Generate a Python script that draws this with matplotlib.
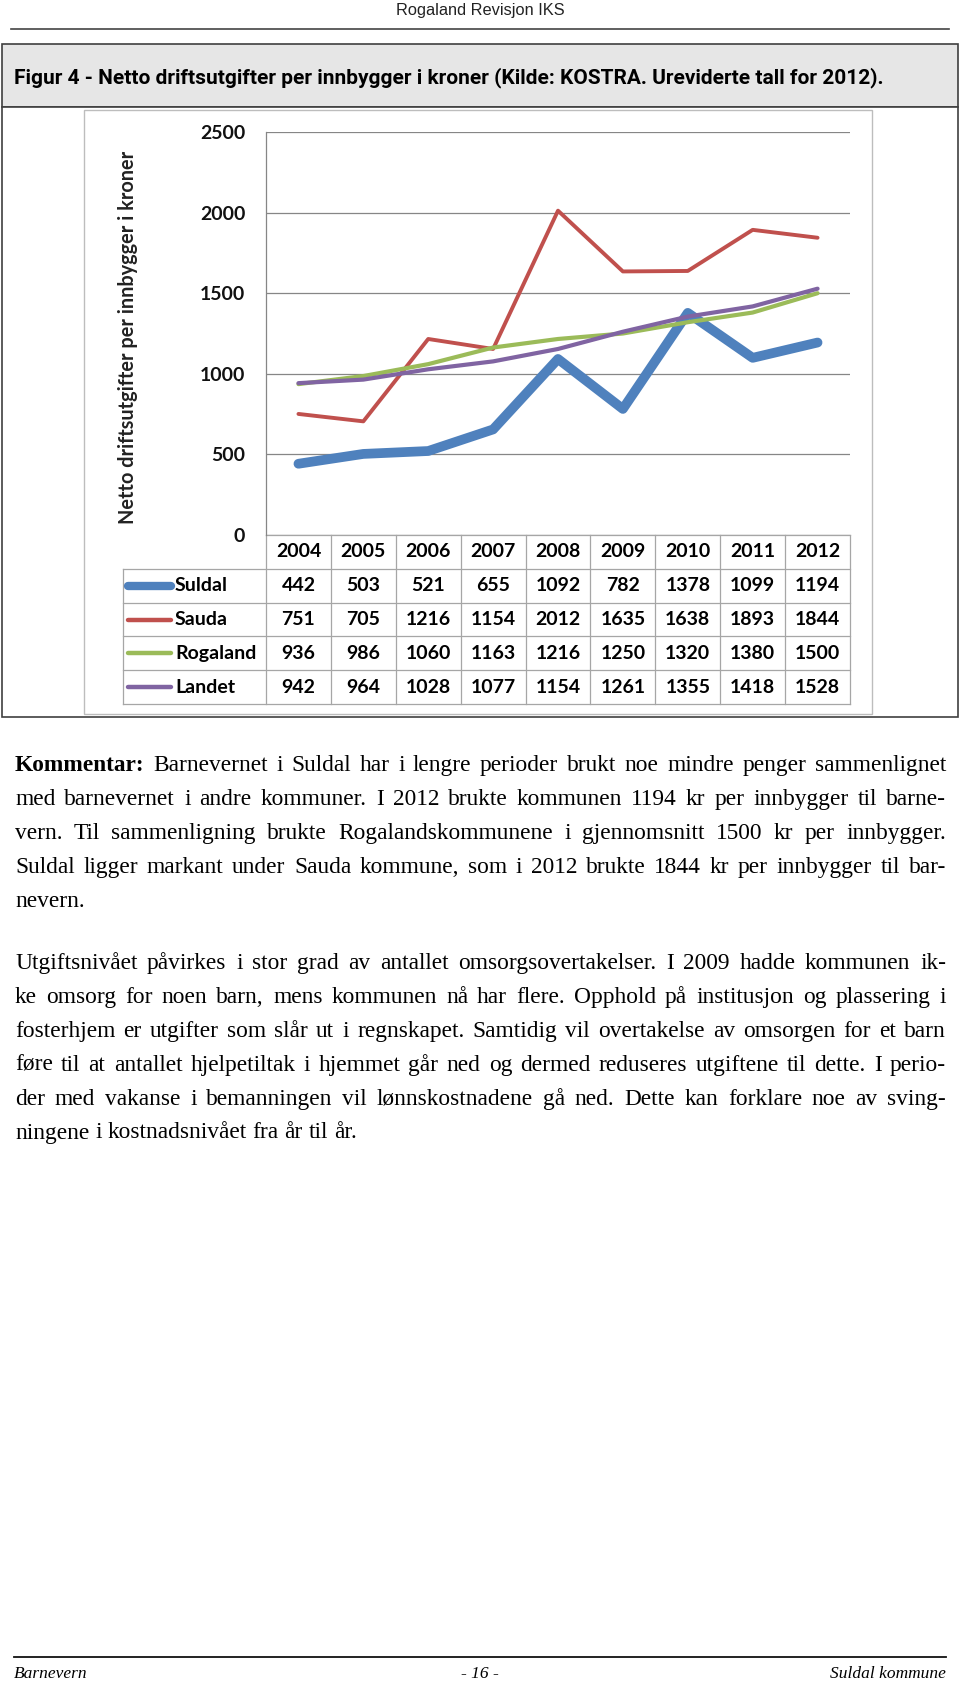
import matplotlib
matplotlib.use('Agg')
import matplotlib.pyplot as plt
import matplotlib.transforms as mtransforms
from matplotlib.patches import Rectangle

# data
years = ['2004', '2005', '2006', '2007', '2008', '2009', '2010', '2011', '2012']
suldal = [442, 503, 521, 655, 1092, 782, 1378, 1099, 1194]
sauda = [751, 705, 1216, 1154, 2012, 1635, 1638, 1893, 1844]
rogaland = [936, 986, 1060, 1163, 1216, 1250, 1320, 1380, 1500]
landet = [942, 964, 1028, 1077, 1154, 1261, 1355, 1418, 1528]
series_names = ['Suldal', 'Sauda', 'Rogaland', 'Landet']
series_colors = ['#4f81bd', '#c0504d', '#9bbb59', '#8064a2']
y_ticks = [0, 500, 1000, 1500, 2000, 2500]

header_text = 'Rogaland Revisjon IKS'
figure_title = ('Figur 4 - Netto driftsutgifter per innbygger i kroner '
                '(Kilde: KOSTRA. Ureviderte tall for 2012).')
y_label = 'Netto driftsutgifter per innbygger i kroner'

para1 = [
    'Kommentar: Barnevernet i Suldal har i lengre perioder brukt noe mindre penger sammenlignet',
    'med barnevernet i andre kommuner. I 2012 brukte kommunen 1194 kr per innbygger til barne-',
    'vern. Til sammenligning brukte Rogalandskommunene i gjennomsnitt 1500 kr per innbygger.',
    'Suldal ligger markant under Sauda kommune, som i 2012 brukte 1844 kr per innbygger til bar-',
    'nevern.',
]
para2 = [
    'Utgiftsnivået påvirkes i stor grad av antallet omsorgsovertakelser. I 2009 hadde kommunen ik-',
    'ke omsorg for noen barn, mens kommunen nå har flere. Opphold på institusjon og plassering i',
    'fosterhjem er utgifter som slår ut i regnskapet. Samtidig vil overtakelse av omsorgen for et barn',
    'føre til at antallet hjelpetiltak i hjemmet går ned og dermed reduseres utgiftene til dette. I perio-',
    'der med vakanse i bemanningen vil lønnskostnadene gå ned. Dette kan forklare noe av sving-',
    'ningene i kostnadsnivået fra år til år.',
]
footer_left = 'Barnevern'
footer_mid = '- 16 -'
footer_right = 'Suldal kommune'

W, H = 960, 1684
SANS = ['Lato', 'DejaVu Sans']
SERIF = ['Liberation Serif', 'DejaVu Serif']

fig = plt.figure(figsize=(W / 100, H / 100), dpi=100)
page = fig.add_axes([0, 0, 1, 1])
page.set_xlim(0, W)
page.set_ylim(H, 0)
page.axis('off')
renderer = fig.canvas.get_renderer()


def fit_width(t, target):
    bb = t.get_window_extent(renderer)
    t.set_fontsize(t.get_fontsize() * target / max(bb.width, bb.height))


# page header
t = page.text(480, 10, header_text, ha='center', va='center', fontsize=11,
              family=['Liberation Sans Narrow', 'Liberation Sans'], color='#222222')
fit_width(t, 168)
page.plot([11, 949], [29, 29], color='#444444', lw=1.2)

# figure caption box
page.add_patch(Rectangle((2, 44), 956, 63, facecolor='#e6e6e6', edgecolor='#3f3f3f', lw=1.2))
t = page.text(14, 78, figure_title, ha='left', va='center', fontsize=10, fontweight='bold',
              family=['Roboto', 'DejaVu Sans'])
fit_width(t, 866)

# chart boxes
page.add_patch(Rectangle((2, 107), 956, 610, facecolor='white', edgecolor='#3f3f3f', lw=1.2))
page.add_patch(Rectangle((84, 110), 788, 604, facecolor='white', edgecolor='#bdbdbd', lw=1.0))

# chart
ax = fig.add_axes([266 / W, 1 - 535 / H, (850 - 266) / W, (535 - 132) / H])
ax.set_xlim(-0.5, len(years) - 0.5)
ax.set_ylim(0, 2500)
ax.set_yticks(y_ticks)
ax.set_xticks([])
ax.yaxis.grid(True, color='#868686', lw=0.9)
ax.set_axisbelow(True)
for s in ['top', 'right', 'bottom']:
    ax.spines[s].set_visible(False)
ax.spines['left'].set_color('#868686')
ax.spines['left'].set_linewidth(0.9)
ax.tick_params(axis='y', length=0, pad=15)
for lab in ax.get_yticklabels():
    lab.set_fontsize(14)
    lab.set_fontweight('bold')
    lab.set_family(SANS)
    lab.set_color('#111111')
ax.patch.set_alpha(0)

all_series = [suldal, sauda, rogaland, landet]
line_widths = [7.0, 2.8, 3.0, 3.0]
x = list(range(len(years)))
for vals, c, lw in zip(all_series, series_colors, line_widths):
    ax.plot(x, vals, color=c, lw=lw, solid_capstyle='round', solid_joinstyle='round', clip_on=False)

t = page.text(128, 337, y_label, rotation=90, ha='center', va='center', fontsize=13,
              fontweight='bold', family=SANS, color='#222222')
fit_width(t, 372)

# data table
blend = mtransforms.blended_transform_factory(ax.transData, page.transData)
table_top = 535
row_h = 33.8
edges = [table_top + k * row_h for k in range(len(series_names) + 2)]
grid_c = '#a6a6a6'
for k, yy in enumerate(edges):
    x0 = 266 if k == 0 else 123
    page.plot([x0, 850], [yy, yy], color=grid_c, lw=0.9)
for i in range(len(years) + 1):
    ax.plot([i - 0.5, i - 0.5], [edges[0], edges[-1]], color=grid_c, lw=0.9,
            transform=blend, clip_on=False)
page.plot([123, 123], [edges[1], edges[-1]], color=grid_c, lw=0.9)

for i, yr in enumerate(years):
    ax.text(i, (edges[0] + edges[1]) / 2, yr, transform=blend, ha='center', va='center',
            fontsize=14, fontweight='bold', family=SANS, clip_on=False)
for r, (name, vals, c, lw) in enumerate(zip(series_names, all_series, series_colors, line_widths)):
    yc = (edges[r + 1] + edges[r + 2]) / 2
    page.plot([128, 171], [yc, yc], color=c, lw=6.0 if r == 0 else 3.2,
              solid_capstyle='round')
    page.text(175, yc, name, ha='left', va='center', fontsize=14, fontweight='bold', family=SANS)
    for i, v in enumerate(vals):
        ax.text(i, yc, str(v), transform=blend, ha='center', va='center',
                fontsize=14, fontweight='bold', family=SANS, clip_on=False)

# body text, justified
X0, X1 = 15, 946
BODY_FS = 16.8
line_gap = 33.9


def make_words(line, y, fs):
    arts, widths = [], []
    for w in line.split(' '):
        t = page.text(0, y, w, ha='left', va='baseline', fontsize=fs,
                      fontweight='bold' if w == 'Kommentar:' else 'normal', family=SERIF)
        arts.append(t)
        widths.append(t.get_window_extent(renderer).width)
    return arts, widths


# shrink the size if a full line would not fit with a minimal gap
all_lines = [l for p in (para1, para2) for l in p[:-1]]
need = 0
for line in all_lines:
    arts, widths = make_words(line, 0, BODY_FS)
    need = max(need, (sum(widths) + (len(widths) - 1) * BODY_FS * 1.389 * 0.22) / (X1 - X0))
    for a in arts:
        a.remove()
if need > 1:
    BODY_FS = BODY_FS / need


def draw_line(line, y, justify):
    arts, widths = make_words(line, y, BODY_FS)
    space = BODY_FS * 1.389 * 0.25
    if justify and len(arts) > 1:
        space = (X1 - X0 - sum(widths)) / (len(arts) - 1)
    xx = X0
    for t, w in zip(arts, widths):
        t.set_x(xx)
        xx += w + space


for p, start in [(para1, 771), (para2, 969)]:
    for k, line in enumerate(p):
        draw_line(line, start + k * line_gap, k < len(p) - 1)

# footer
page.plot([14, 946], [1657, 1657], color='#111111', lw=1.3)
for txt, xx, ha in [(footer_left, 14, 'left'), (footer_mid, 480, 'center'), (footer_right, 946, 'right')]:
    page.text(xx, 1674, txt, ha=ha, va='center', fontsize=12.5, style='italic', family=SERIF)

fig.savefig('out.png', dpi=100)
